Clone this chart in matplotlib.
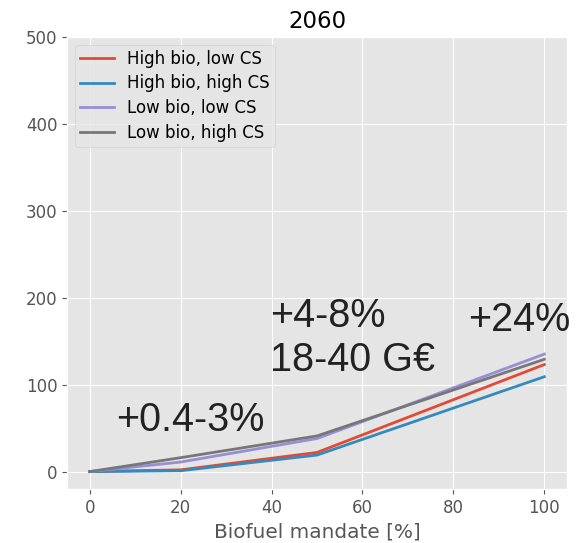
import matplotlib
matplotlib.use("Agg")
import matplotlib.pyplot as plt

plt.style.use("ggplot")
plt.rcParams["font.size"] = 12

mandate = [0, 20, 50, 100]
high_bio_low_cs = [0, 2, 22, 123]
high_bio_high_cs = [0, 1, 19, 109]
low_bio_low_cs = [0, 11, 38, 135]
low_bio_high_cs = [0, 16, 41, 129]
labels = ["High bio, low CS", "High bio, high CS", "Low bio, low CS", "Low bio, high CS"]

fig = plt.figure(figsize=(5.82, 5.43), dpi=100)
ax = fig.add_axes([67/582, 1-489/543, (567-67)/582, (489-36.5)/543])
for vals, lab in zip([high_bio_low_cs, high_bio_high_cs, low_bio_low_cs, low_bio_high_cs], labels):
    ax.plot(mandate, vals, label=lab, lw=2)

ax.set_ylim(-20, 500)
ax.set_title("2060", fontsize=16.5, color="black")
ax.set_xlabel("Biofuel mandate [%]", fontsize=14.4)
ax.tick_params(labelsize=12)
ax.legend(loc="upper left", fontsize=12, labelspacing=0.4, borderpad=0.3)

afont = dict(fontsize=28.5, color="#222222", family="Liberation Sans")
ax.text(5.8, 46.5, "+0.4-3%", **afont)
ax.text(39.6, 115.5, "+4-8%\n18-40 G€", **afont)
ax.text(83.3, 162, "+24%", clip_on=False, **afont)

fig.savefig("out.png", dpi=100)
